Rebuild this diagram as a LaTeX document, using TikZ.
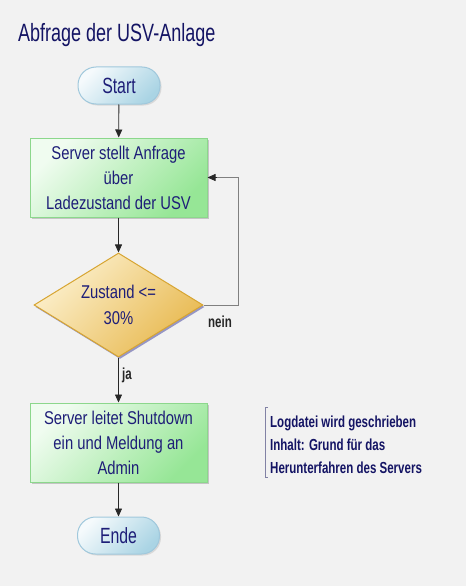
\documentclass[tikz,border=0pt]{standalone}
\usepackage{fontspec}
\setmainfont{Liberation Sans}[FakeStretch=0.8]
\newfontfamily\titlefont{Liberation Sans}[FakeStretch=0.72]
\newfontfamily\termfont{Liberation Sans}[FakeStretch=0.72]
\newfontfamily\notefont{Liberation Sans}[FakeStretch=0.72,UprightFont=*-Bold]
\usetikzlibrary{shapes.geometric,arrows.meta,shadows}
\definecolor{bgc}{RGB}{242,242,242}
\definecolor{txtc}{RGB}{30,30,120}
\definecolor{titlec}{RGB}{20,20,100}
\definecolor{grlight}{RGB}{240,252,240}
\definecolor{grdark}{RGB}{150,230,150}
\definecolor{grborder}{RGB}{140,215,140}
\definecolor{bllight}{RGB}{245,250,252}
\definecolor{bldark}{RGB}{170,212,228}
\definecolor{blborder}{RGB}{160,200,220}
\definecolor{yelight}{RGB}{252,240,205}
\definecolor{yedark}{RGB}{232,185,80}
\definecolor{yeborder}{RGB}{215,165,50}
\definecolor{arrc}{RGB}{40,40,40}
\definecolor{loopc}{RGB}{128,128,128}
\definecolor{brc}{RGB}{130,130,165}
\tikzset{
  procbox/.style={draw=grborder, line width=1pt, top color=grlight, bottom color=grdark, shading angle=45,
    minimum width=177pt, minimum height=79pt, inner sep=0pt, align=center, text=txtc,
    font=\fontsize{18.5}{25}\selectfont,
    drop shadow={shadow xshift=2pt, shadow yshift=-2pt, fill=black!35, opacity=0.6}},
  termbox/.style={draw=blborder, line width=1pt, top color=bllight, bottom color=bldark, shading angle=45,
    minimum width=82pt, minimum height=37pt, rounded corners=18pt, inner sep=0pt, text=txtc,
    font=\termfont\fontsize{22}{24}\selectfont,
    drop shadow={shadow xshift=1.5pt, shadow yshift=-1.5pt, fill=black!25, opacity=0.5}},
  decbox/.style={diamond, draw=yeborder, line width=1pt, top color=yelight, bottom color=yedark, shading angle=45,
    aspect=1.625, minimum width=169pt, minimum height=104pt, inner sep=0pt, align=center, text=txtc,
    font=\fontsize{18.5}{26}\selectfont,
    drop shadow={shadow xshift=1.5pt, shadow yshift=-2pt, fill=blue!30!gray, opacity=0.6}},
  flow/.style={draw=arrc, line width=0.8pt, -{Triangle[length=8pt,width=7pt]}},
  lbl/.style={text=black!85, font=\notefont\fontsize{16}{18}\selectfont, inner sep=0pt, anchor=base west},
  note/.style={text=titlec, font=\notefont\fontsize{16}{18}\selectfont, inner sep=0pt, anchor=base west}
}
\begin{document}
\begin{tikzpicture}[x=1pt,y=-1pt]
\fill[bgc] (0,0) rectangle (466,586);
\useasboundingbox (0,0) rectangle (466,586);
\node[text=titlec, font=\titlefont\fontsize{25}{28}\selectfont, anchor=base west, inner sep=0pt] (title) at (18,42) {Abfrage der USV-Anlage};
\node[termbox] (start) at (119,85.5) {Start};
\node[procbox] (b1) at (118.5,177.5) {Server stellt Anfrage\\über\\Ladezustand der USV};
\node[decbox] (d) at (118.5,305) {Zustand <=\\30\%};
\node[procbox] (b2) at (118.5,442.5) {Server leitet Shutdown\\ein und Meldung an\\Admin};
\node[termbox] (ende) at (118.5,535.5) {Ende};
\coordinate (lc) at (238,305);
\draw[flow] (start) -- (b1);
\draw[flow] (b1) -- (d);
\draw[flow] (d) -- (b2);
\draw[flow] (b2) -- (ende);
\draw[draw=loopc, line width=1pt] (d.east) -- (lc) |- ([xshift=8pt]b1.east);
\draw[flow] ([xshift=9pt]b1.east) -- (b1.east);
\node[lbl] (ja) at (122,379) {ja};
\node[lbl] (nein) at (208,327) {nein};
\node[note] (log1) at (270,427) {Logdatei wird geschrieben};
\node[note] (log2) at (270,450) {Inhalt: Grund für das};
\node[note] (log3) at (270,473) {Herunterfahren des Servers};
\coordinate (brt) at (265,407);
\coordinate (brb) at (265,477);
\draw[draw=brc, line width=0.8pt] ([xshift=3pt]brt) -- (brt) -- (brb) -- ([xshift=3pt]brb);
\end{tikzpicture}
\end{document}
